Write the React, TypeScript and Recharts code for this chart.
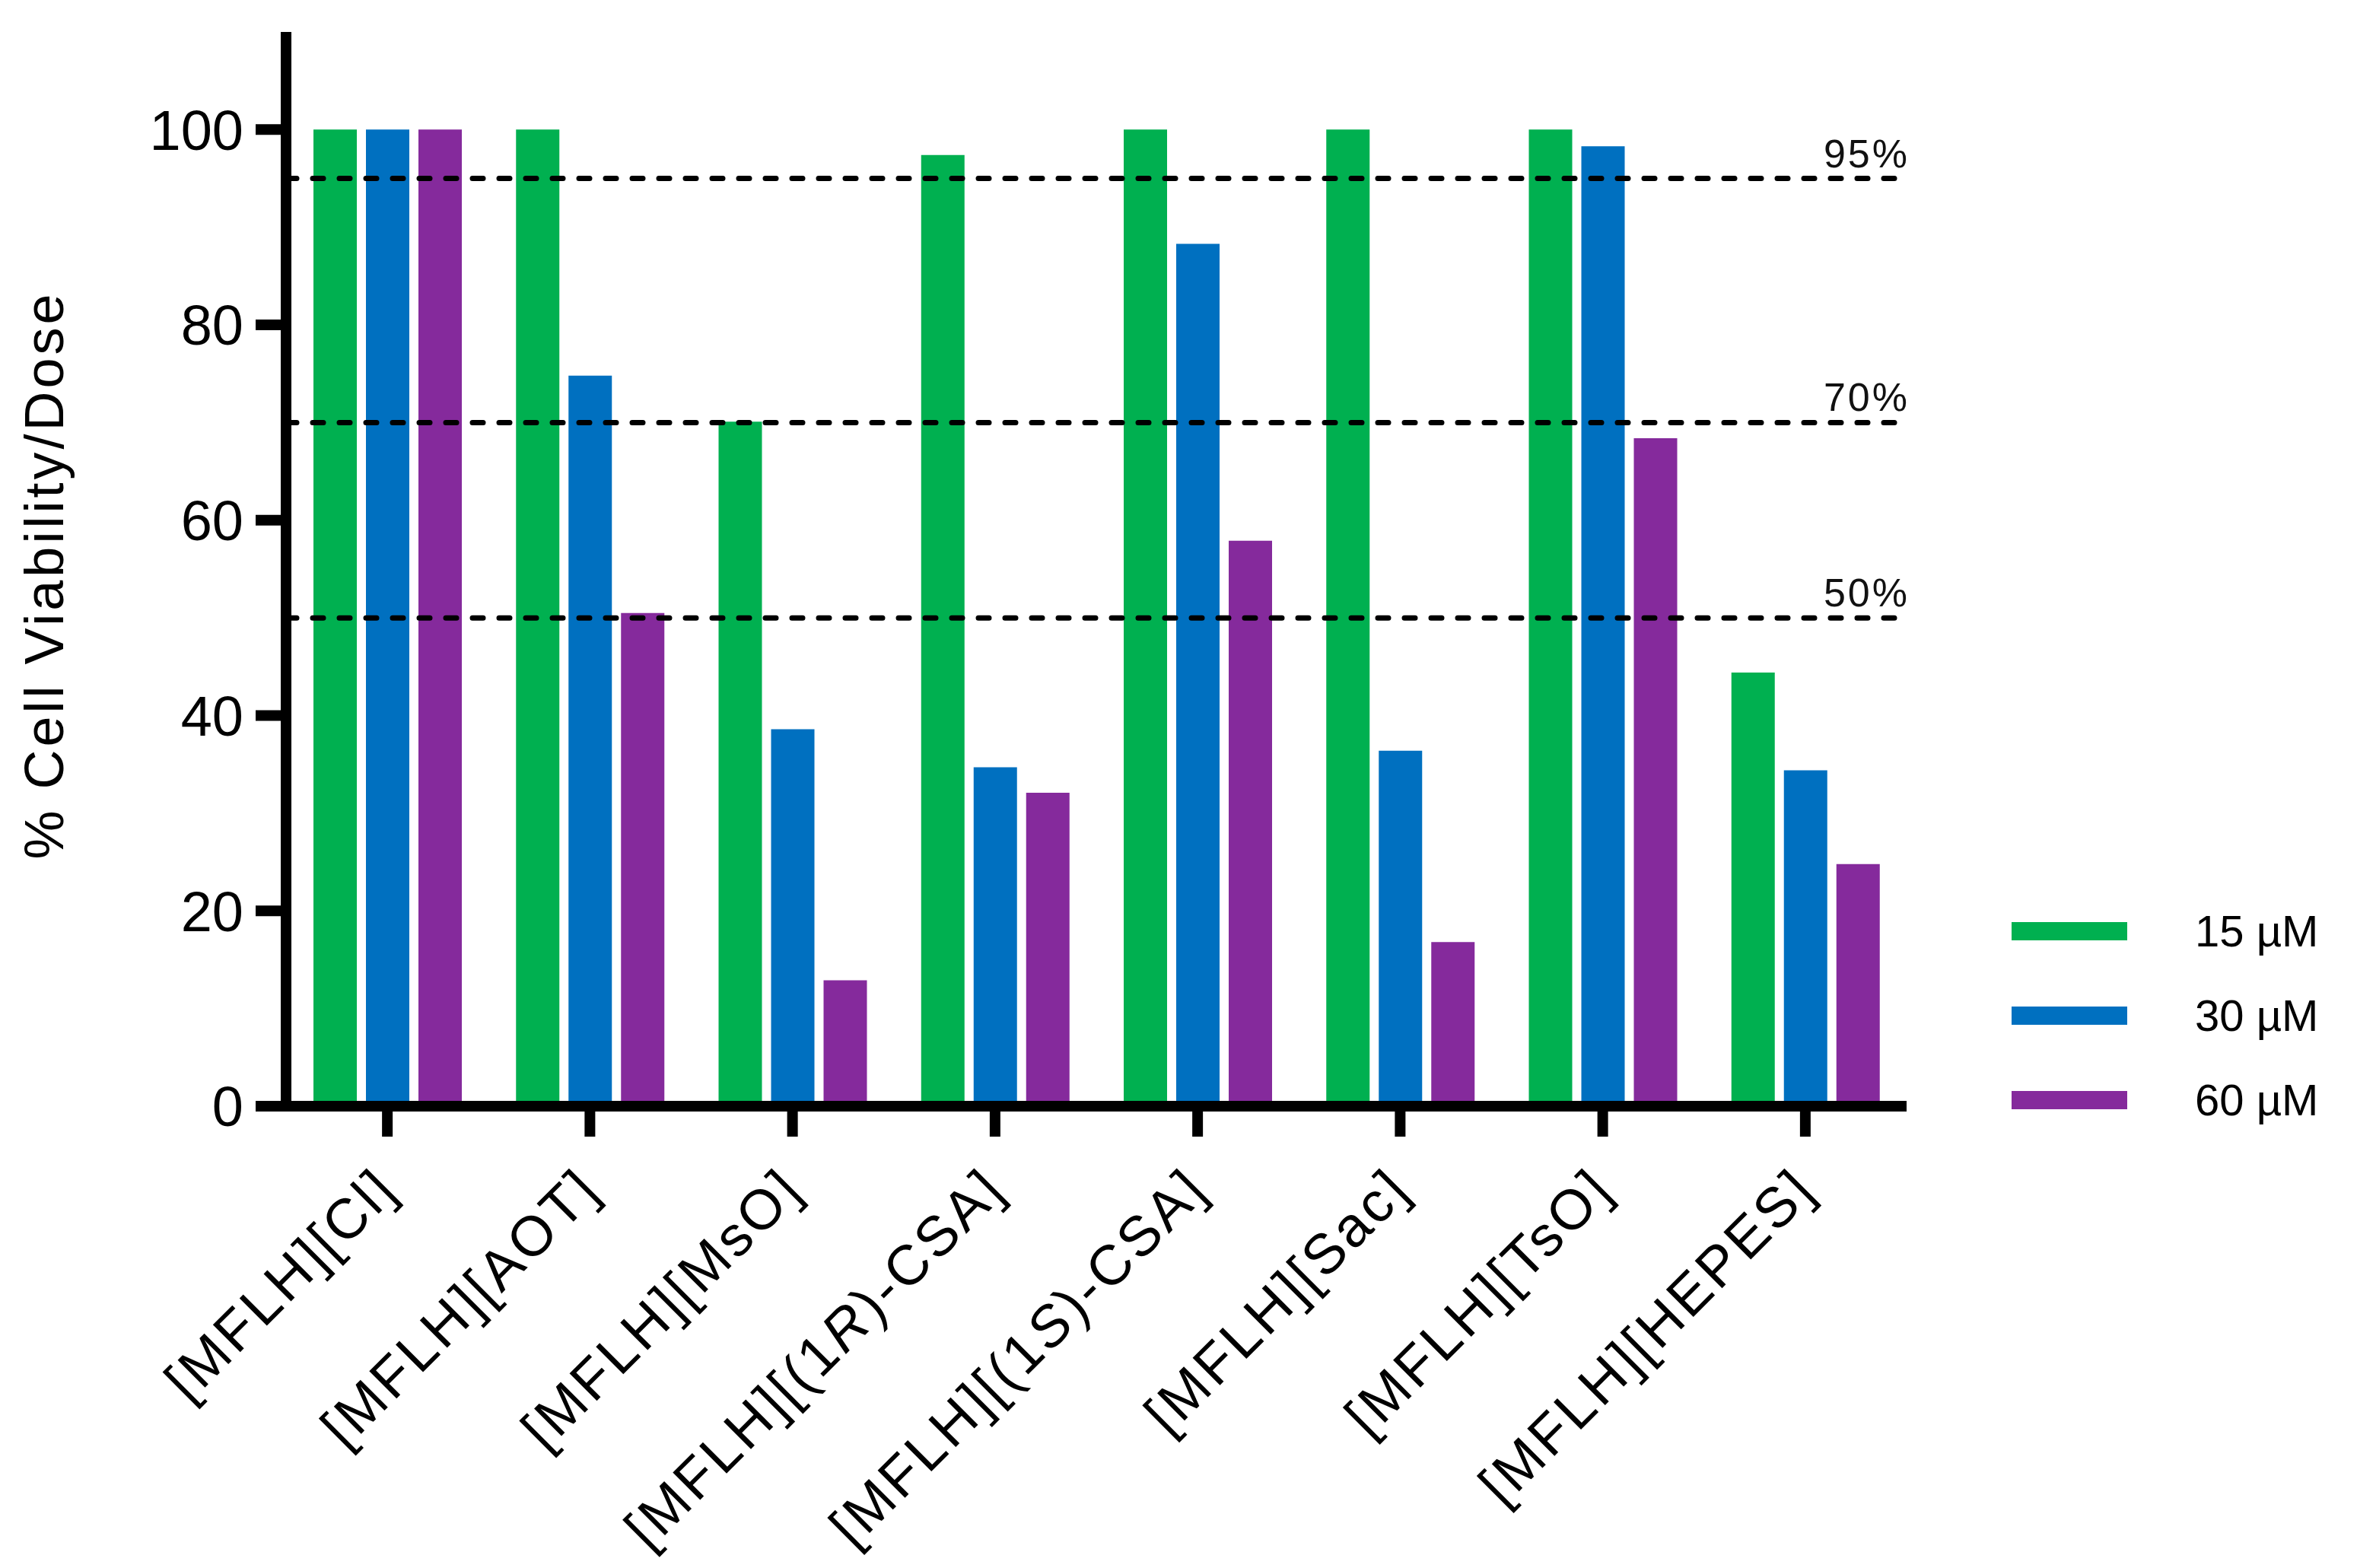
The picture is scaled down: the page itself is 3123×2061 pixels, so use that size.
import React from 'react';
import {
  Bar,
  BarChart,
  Legend,
  ReferenceLine,
  XAxis,
  YAxis,
} from 'recharts';

const FONT = '"Liberation Sans", Arial, Helvetica, sans-serif';

const categories = [
  '[MFLH][Cl]',
  '[MFLH][AOT]',
  '[MFLH][MsO]',
  '[MFLH][(1R)-CSA]',
  '[MFLH][(1S)-CSA]',
  '[MFLH][Sac]',
  '[MFLH][TsO]',
  '[MFLH][HEPES]',
];
const dose15 = [100, 100, 70.1, 97.4, 100, 100, 100, 44.4];
const dose30 = [100, 74.8, 38.6, 34.7, 88.3, 36.4, 98.3, 34.4];
const dose60 = [100, 50.5, 12.9, 32.1, 57.9, 16.8, 68.4, 24.8];
const yTicks = [0, 20, 40, 60, 80, 100];
const thresholds = [95, 70, 50];

const data = categories.map((name, i) => ({
  name,
  d15: dose15[i],
  d30: dose30[i],
  d60: dose60[i],
}));

// legend box is 440 wide; recharts adds that to the right offset
const LEGEND_W = 440;

function CategoryTick(props: any) {
  const { x, y, payload } = props;
  const label: string = payload.value;
  // (1R) / (1S) stereo descriptors are set in italics
  const m = label.match(/^(.*\(1)([RS])(\).*)$/);
  return (
    <g transform={`translate(${x + 17},${y + 71})`}>
      <text
        textAnchor="end"
        transform="rotate(-45)"
        fontSize={74}
        letterSpacing={4}
        fontFamily={FONT}
        fill="#000"
      >
        {m ? (
          <>
            {m[1]}
            <tspan fontStyle="italic">{m[2]}</tspan>
            {m[3]}
          </>
        ) : (
          label
        )}
      </text>
    </g>
  );
}

function renderLegend(props: any) {
  const { payload = [] } = props;
  return (
    <div>
      {payload.map((entry: any) => (
        <div
          key={entry.value}
          style={{ display: 'flex', alignItems: 'center', height: 111 }}
        >
          <div style={{ width: 152, height: 24, background: entry.color }} />
          <span
            style={{
              marginLeft: 89,
              fontSize: 58,
              fontFamily: FONT,
              color: '#000',
              lineHeight: 1,
            }}
          >
            {entry.value}
          </span>
        </div>
      ))}
    </div>
  );
}

function thresholdLabel(text: string) {
  return (p: any) => {
    const vb = p.viewBox;
    return (
      <text
        x={vb.x + vb.width + 4}
        y={vb.y - 15}
        textAnchor="end"
        fontSize={52}
        letterSpacing={3}
        fontFamily={FONT}
        fill="#111"
      >
        {text}
      </text>
    );
  };
}

function yTitle(p: any) {
  const vb = p.viewBox;
  const cx = vb.x + 75;
  const cy = vb.y + vb.height / 2 + 8;
  return (
    <text
      x={cx}
      y={cy}
      transform={`rotate(-90, ${cx}, ${cy})`}
      textAnchor="middle"
      fontSize={72}
      letterSpacing={4}
      fontFamily={FONT}
      fill="#000"
    >
      % Cell Viability/Dose
    </text>
  );
}

export default function App() {
  return (
    <BarChart
      width={3107}
      height={2045}
      data={data}
      margin={{ top: 34, right: 609 - LEGEND_W, left: 0, bottom: 0 }}
      barSize={57}
      barGap={12}
    >
      <XAxis
        dataKey="name"
        interval={0}
        height={599}
        tick={<CategoryTick />}
        tickSize={40}
        tickMargin={2}
        tickLine={{ stroke: '#000', strokeWidth: 14 }}
        axisLine={{ stroke: '#000', strokeWidth: 14 }}
      />
      <YAxis
        width={368}
        domain={[0, 110]}
        ticks={yTicks}
        allowDataOverflow
        tickSize={40}
        tickMargin={16}
        tick={{ fontSize: 74, fill: '#000', fontFamily: FONT }}
        tickLine={{ stroke: '#000', strokeWidth: 14 }}
        axisLine={{ stroke: '#000', strokeWidth: 14 }}
        label={{ content: yTitle }}
      />
      <Legend
        layout="horizontal"
        verticalAlign="middle"
        align="right"
        wrapperStyle={{ left: 2636, top: 1160, width: LEGEND_W, height: 340 }}
        content={renderLegend}
      />
      <Bar dataKey="d15" name="15 µM" fill="#00B050" isAnimationActive={false} />
      <Bar dataKey="d30" name="30 µM" fill="#0070C0" isAnimationActive={false} />
      <Bar dataKey="d60" name="60 µM" fill="#852A9C" isAnimationActive={false} />
      {thresholds.map((t) => (
        <ReferenceLine
          key={t}
          y={t}
          stroke="#000"
          strokeWidth={7}
          strokeDasharray="14 21"
          strokeLinecap="round"
          label={thresholdLabel(`${t}%`)}
        />
      ))}
    </BarChart>
  );
}
